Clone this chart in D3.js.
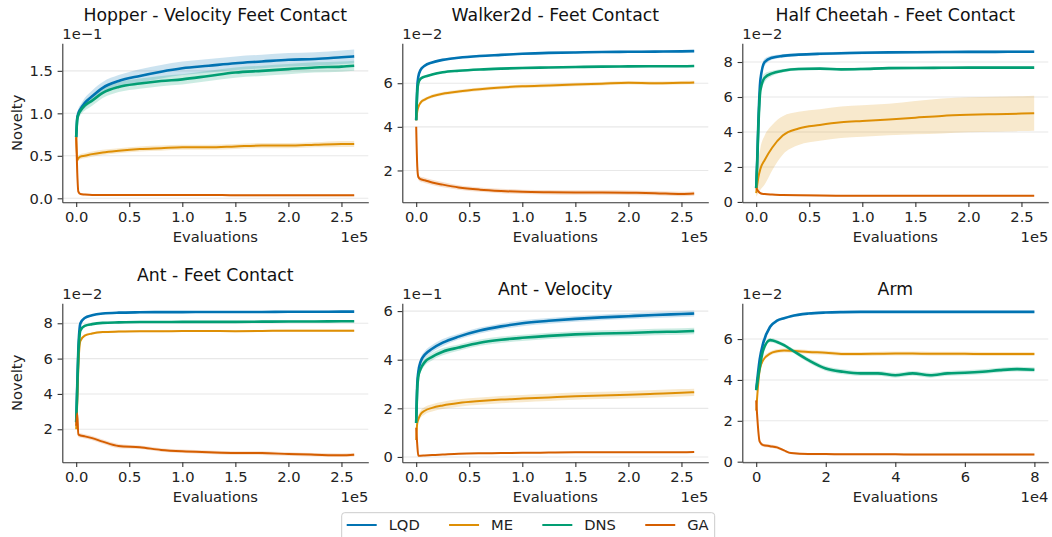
<!DOCTYPE html>
<html>
<head>
<meta charset="utf-8">
<script src="https://cdn.jsdelivr.net/npm/d3@7"></script>
<style>
  body { margin: 0; background: #fff; }
  svg { font-family: "DejaVu Sans", sans-serif; }
  .axis path, .axis line { stroke: #333; stroke-width: 1.1; }
  .axis text { fill: #222; font-size: 14.7px; font-family: "DejaVu Sans", sans-serif; }
</style>
</head>
<body>
<div id="chart"></div>
<script>
// x sample points, evaluations in units of 1e5 (Arm panel: 1e4)
const xEvals = [0, 0.01, 0.02, 0.04, 0.08, 0.15, 0.25, 0.4, 0.6, 0.8, 1.0, 1.25, 1.5, 1.75, 2.0, 2.25, 2.5, 2.62];
const xArm = [0, 0.1, 0.2, 0.4, 0.6, 0.8, 1.0, 1.5, 2.0, 2.5, 3.0, 3.5, 4.0, 4.5, 5.0, 5.5, 6.0, 6.5, 7.0, 7.5, 8.0];

const methods = ["LQD", "ME", "DNS", "GA"];
const methodColors = ["#0173b2", "#de8f05", "#029e73", "#d55e00"];

// Hopper - Velocity Feet Contact (1e-1)
const hopperLQD = [0.72, 0.95, 1.0, 1.05, 1.12, 1.2, 1.3, 1.38, 1.44, 1.49, 1.53, 1.56, 1.59, 1.61, 1.63, 1.64, 1.66, 1.67];
const hopperLQDStd = [0.02, 0.04, 0.05, 0.05, 0.06, 0.07, 0.07, 0.07, 0.08, 0.08, 0.08, 0.08, 0.08, 0.08, 0.08, 0.08, 0.08, 0.08];
const hopperME = [0.72, 0.45, 0.47, 0.49, 0.5, 0.52, 0.54, 0.56, 0.58, 0.59, 0.6, 0.6, 0.61, 0.62, 0.62, 0.63, 0.64, 0.64];
const hopperMEStd = [0.01, 0.03, 0.03, 0.03, 0.03, 0.03, 0.03, 0.03, 0.03, 0.03, 0.03, 0.03, 0.03, 0.03, 0.03, 0.03, 0.035, 0.035];
const hopperDNS = [0.72, 0.93, 0.98, 1.03, 1.09, 1.15, 1.24, 1.31, 1.35, 1.38, 1.4, 1.44, 1.48, 1.5, 1.52, 1.54, 1.55, 1.56];
const hopperDNSStd = [0.02, 0.04, 0.05, 0.05, 0.06, 0.06, 0.06, 0.06, 0.06, 0.06, 0.06, 0.06, 0.06, 0.06, 0.06, 0.06, 0.06, 0.06];
const hopperGA = [0.72, 0.3, 0.08, 0.05, 0.045, 0.04, 0.04, 0.04, 0.04, 0.04, 0.04, 0.04, 0.035, 0.035, 0.035, 0.035, 0.035, 0.035];
const hopperGAStd = [0.01, 0.02, 0.01, 0.01, 0.01, 0.01, 0.01, 0.01, 0.01, 0.01, 0.01, 0.01, 0.01, 0.01, 0.01, 0.01, 0.01, 0.01];

// Walker2d - Feet Contact (1e-2)
const walkerLQD = [4.3, 5.8, 6.3, 6.6, 6.8, 6.95, 7.07, 7.17, 7.25, 7.3, 7.35, 7.39, 7.41, 7.43, 7.44, 7.45, 7.46, 7.47];
const walkerLQDStd = [0.05, 0.1, 0.08, 0.06, 0.05, 0.05, 0.05, 0.05, 0.05, 0.05, 0.05, 0.05, 0.05, 0.05, 0.05, 0.05, 0.05, 0.05];
const walkerME = [4.3, 4.7, 4.9, 5.1, 5.25, 5.4, 5.52, 5.62, 5.72, 5.8, 5.86, 5.9, 5.94, 5.98, 6.02, 6.0, 6.02, 6.03];
const walkerMEStd = [0.05, 0.1, 0.1, 0.1, 0.08, 0.08, 0.08, 0.08, 0.08, 0.08, 0.08, 0.08, 0.08, 0.08, 0.08, 0.08, 0.08, 0.08];
const walkerDNS = [4.3, 5.6, 6.0, 6.2, 6.3, 6.4, 6.5, 6.57, 6.63, 6.67, 6.7, 6.72, 6.74, 6.76, 6.77, 6.78, 6.78, 6.79];
const walkerDNSStd = [0.05, 0.1, 0.08, 0.06, 0.05, 0.05, 0.05, 0.05, 0.05, 0.05, 0.05, 0.05, 0.05, 0.05, 0.05, 0.05, 0.05, 0.05];
const walkerGA = [4.0, 2.2, 1.7, 1.6, 1.55, 1.45, 1.35, 1.22, 1.12, 1.06, 1.02, 1.0, 0.99, 0.99, 0.98, 0.96, 0.92, 0.94];
const walkerGAStd = [0.1, 0.12, 0.12, 0.12, 0.12, 0.12, 0.12, 0.1, 0.1, 0.1, 0.1, 0.1, 0.1, 0.1, 0.1, 0.1, 0.1, 0.1];

// Half Cheetah - Feet Contact (1e-2)
const cheetahLQD = [0.8, 2.5, 4.5, 7.0, 8.0, 8.25, 8.35, 8.42, 8.47, 8.5, 8.53, 8.55, 8.56, 8.57, 8.58, 8.58, 8.59, 8.59];
const cheetahLQDStd = [0.1, 0.4, 0.4, 0.3, 0.2, 0.12, 0.1, 0.08, 0.08, 0.08, 0.08, 0.08, 0.08, 0.08, 0.08, 0.08, 0.08, 0.08];
const cheetahME = [0.5, 1.0, 1.4, 1.9, 2.4, 3.1, 3.8, 4.2, 4.4, 4.55, 4.63, 4.72, 4.82, 4.92, 4.98, 5.02, 5.05, 5.07];
const cheetahMEStd = [0.2, 0.6, 0.9, 1.2, 1.4, 1.3, 1.1, 0.95, 0.9, 0.9, 0.9, 0.9, 0.95, 1.0, 1.0, 1.0, 1.0, 1.0];
const cheetahDNS = [0.8, 2.3, 4.2, 6.4, 7.1, 7.35, 7.5, 7.6, 7.62, 7.58, 7.6, 7.65, 7.66, 7.67, 7.68, 7.68, 7.68, 7.68];
const cheetahDNSStd = [0.1, 0.4, 0.4, 0.3, 0.25, 0.15, 0.1, 0.08, 0.08, 0.08, 0.08, 0.08, 0.08, 0.08, 0.08, 0.08, 0.08, 0.08];
const cheetahGA = [0.8, 0.7, 0.6, 0.5, 0.45, 0.42, 0.4, 0.38, 0.37, 0.36, 0.36, 0.36, 0.36, 0.36, 0.36, 0.36, 0.36, 0.36];
const cheetahGAStd = [0.05, 0.05, 0.05, 0.04, 0.04, 0.04, 0.04, 0.04, 0.04, 0.04, 0.04, 0.04, 0.04, 0.04, 0.04, 0.04, 0.04, 0.04];

// Ant - Feet Contact (1e-2)
const antFeetLQD = [2.4, 4.5, 6.5, 8.0, 8.3, 8.45, 8.55, 8.6, 8.62, 8.63, 8.63, 8.64, 8.64, 8.64, 8.65, 8.65, 8.66, 8.66];
const antFeetLQDStd = [0.1, 0.2, 0.2, 0.1, 0.06, 0.05, 0.05, 0.05, 0.05, 0.05, 0.05, 0.05, 0.05, 0.05, 0.05, 0.05, 0.05, 0.05];
const antFeetME = [2.0, 3.5, 5.5, 7.0, 7.3, 7.42, 7.5, 7.53, 7.55, 7.55, 7.56, 7.56, 7.55, 7.56, 7.58, 7.58, 7.58, 7.58];
const antFeetMEStd = [0.1, 0.2, 0.2, 0.12, 0.08, 0.06, 0.06, 0.06, 0.06, 0.06, 0.06, 0.06, 0.06, 0.06, 0.06, 0.06, 0.06, 0.06];
const antFeetDNS = [2.4, 4.3, 6.2, 7.6, 7.85, 7.95, 8.02, 8.05, 8.07, 8.07, 8.08, 8.08, 8.08, 8.09, 8.1, 8.1, 8.11, 8.11];
const antFeetDNSStd = [0.1, 0.2, 0.2, 0.1, 0.06, 0.05, 0.05, 0.05, 0.05, 0.05, 0.05, 0.05, 0.05, 0.05, 0.05, 0.05, 0.05, 0.05];
const antFeetGA = [2.2, 2.9, 1.7, 1.65, 1.6, 1.5, 1.3, 1.05, 0.98, 0.83, 0.75, 0.7, 0.66, 0.65, 0.6, 0.56, 0.53, 0.56];
const antFeetGAStd = [0.2, 0.2, 0.15, 0.12, 0.12, 0.12, 0.12, 0.12, 0.1, 0.1, 0.1, 0.1, 0.1, 0.1, 0.1, 0.1, 0.1, 0.1];

// Ant - Velocity (1e-1)
const antVelLQD = [1.4, 3.0, 3.5, 3.9, 4.2, 4.45, 4.7, 4.95, 5.2, 5.37, 5.5, 5.6, 5.68, 5.74, 5.79, 5.84, 5.88, 5.9];
const antVelLQDStd = [0.05, 0.15, 0.15, 0.15, 0.15, 0.15, 0.15, 0.12, 0.12, 0.12, 0.12, 0.12, 0.12, 0.12, 0.12, 0.12, 0.12, 0.12];
const antVelME = [0.7, 1.4, 1.55, 1.75, 1.9, 2.02, 2.12, 2.22, 2.3, 2.36, 2.4, 2.45, 2.5, 2.53, 2.56, 2.6, 2.64, 2.66];
const antVelMEStd = [0.05, 0.12, 0.15, 0.15, 0.15, 0.15, 0.15, 0.15, 0.15, 0.15, 0.15, 0.15, 0.15, 0.15, 0.15, 0.15, 0.15, 0.15];
const antVelDNS = [1.4, 2.8, 3.3, 3.6, 3.9, 4.12, 4.33, 4.5, 4.7, 4.82, 4.9, 4.98, 5.04, 5.08, 5.1, 5.14, 5.16, 5.18];
const antVelDNSStd = [0.05, 0.15, 0.15, 0.15, 0.15, 0.15, 0.15, 0.13, 0.13, 0.13, 0.13, 0.13, 0.13, 0.13, 0.13, 0.13, 0.13, 0.13];
const antVelGA = [1.2, 0.5, 0.05, 0.05, 0.06, 0.08, 0.1, 0.13, 0.15, 0.16, 0.17, 0.18, 0.19, 0.19, 0.19, 0.19, 0.19, 0.2];
const antVelGAStd = [0.02, 0.02, 0.01, 0.01, 0.02, 0.02, 0.02, 0.02, 0.02, 0.02, 0.02, 0.02, 0.02, 0.02, 0.02, 0.02, 0.02, 0.02];

// Arm (1e-2, x in 1e4)
const armLQD = [3.5, 5.0, 5.8, 6.6, 6.9, 7.02, 7.12, 7.25, 7.3, 7.32, 7.33, 7.33, 7.33, 7.33, 7.33, 7.33, 7.33, 7.33, 7.33, 7.33, 7.33];
const armLQDStd = [0.05, 0.1, 0.1, 0.08, 0.06, 0.05, 0.05, 0.05, 0.05, 0.05, 0.05, 0.05, 0.05, 0.05, 0.05, 0.05, 0.05, 0.05, 0.05, 0.05, 0.05];
const armME = [2.5, 4.48, 4.97, 5.29, 5.4, 5.44, 5.43, 5.37, 5.33, 5.27, 5.27, 5.28, 5.29, 5.29, 5.28, 5.28, 5.28, 5.27, 5.27, 5.27, 5.27];
const armMEStd = [0.1, 0.15, 0.12, 0.1, 0.1, 0.1, 0.1, 0.1, 0.1, 0.1, 0.1, 0.1, 0.1, 0.1, 0.1, 0.1, 0.1, 0.1, 0.1, 0.1, 0.1];
const armDNS = [3.5, 4.6, 5.45, 5.95, 5.86, 5.7, 5.49, 4.97, 4.56, 4.4, 4.32, 4.32, 4.23, 4.32, 4.23, 4.32, 4.35, 4.4, 4.48, 4.53, 4.5];
const armDNSStd = [0.05, 0.1, 0.1, 0.1, 0.1, 0.1, 0.1, 0.12, 0.12, 0.12, 0.12, 0.12, 0.12, 0.12, 0.12, 0.12, 0.12, 0.12, 0.12, 0.12, 0.12];
const armGA = [3.0, 0.98, 0.81, 0.76, 0.7, 0.55, 0.42, 0.37, 0.37, 0.36, 0.36, 0.36, 0.36, 0.35, 0.35, 0.35, 0.35, 0.35, 0.35, 0.35, 0.35];
const armGAStd = [0.1, 0.1, 0.08, 0.08, 0.08, 0.06, 0.05, 0.05, 0.05, 0.05, 0.05, 0.05, 0.05, 0.05, 0.05, 0.05, 0.05, 0.05, 0.05, 0.05, 0.05];

// panel geometry (matplotlib-like subplot grid)
var cols = [62.3, 402.3, 742.3];
var rows = [43.3, 303.3];
var panelW = 306, panelH = 159;

var panels = [
  { title: "Hopper - Velocity Feet Contact", col: 0, row: 0, titleY: 20.5,
    x: xEvals, xDomain: [-0.131, 2.753], xTicks: [0, 0.5, 1, 1.5, 2, 2.5], xFmt: ".1f", xExp: "1e5",
    yDomain: [-0.047, 1.824], yTicks: [0, 0.5, 1, 1.5], yFmt: ".1f", yExp: "1e\u22121",
    series: [[hopperLQD, hopperLQDStd], [hopperME, hopperMEStd], [hopperDNS, hopperDNSStd], [hopperGA, hopperGAStd]] },
  { title: "Walker2d - Feet Contact", col: 1, row: 0, titleY: 20.5,
    x: xEvals, xDomain: [-0.131, 2.753], xTicks: [0, 0.5, 1, 1.5, 2, 2.5], xFmt: ".1f", xExp: "1e5",
    yDomain: [0.54, 7.83], yTicks: [2, 4, 6], yFmt: "d", yExp: "1e\u22122",
    series: [[walkerLQD, walkerLQDStd], [walkerME, walkerMEStd], [walkerDNS, walkerDNSStd], [walkerGA, walkerGAStd]] },
  { title: "Half Cheetah - Feet Contact", col: 2, row: 0, titleY: 20.5,
    x: xEvals, xDomain: [-0.131, 2.753], xTicks: [0, 0.5, 1, 1.5, 2, 2.5], xFmt: ".1f", xExp: "1e5",
    yDomain: [-0.02, 9.07], yTicks: [0, 2, 4, 6, 8], yFmt: "d", yExp: "1e\u22122",
    series: [[cheetahLQD, cheetahLQDStd], [cheetahME, cheetahMEStd], [cheetahDNS, cheetahDNSStd], [cheetahGA, cheetahGAStd]] },
  { title: "Ant - Feet Contact", col: 0, row: 1, titleY: 280.5,
    x: xEvals, xDomain: [-0.131, 2.753], xTicks: [0, 0.5, 1, 1.5, 2, 2.5], xFmt: ".1f", xExp: "1e5",
    yDomain: [0.13, 9.13], yTicks: [2, 4, 6, 8], yFmt: "d", yExp: "1e\u22122",
    series: [[antFeetLQD, antFeetLQDStd], [antFeetME, antFeetMEStd], [antFeetDNS, antFeetDNSStd], [antFeetGA, antFeetGAStd]] },
  { title: "Ant - Velocity", col: 1, row: 1, titleY: 294.5,
    x: xEvals, xDomain: [-0.131, 2.753], xTicks: [0, 0.5, 1, 1.5, 2, 2.5], xFmt: ".1f", xExp: "1e5",
    yDomain: [-0.22, 6.32], yTicks: [0, 2, 4, 6], yFmt: "d", yExp: "1e\u22121",
    series: [[antVelLQD, antVelLQDStd], [antVelME, antVelMEStd], [antVelDNS, antVelDNSStd], [antVelGA, antVelGAStd]] },
  { title: "Arm", col: 2, row: 1, titleY: 294.5,
    x: xArm, xDomain: [-0.4, 8.4], xTicks: [0, 2, 4, 6, 8], xFmt: "d", xExp: "1e4",
    yDomain: [-0.03, 7.75], yTicks: [0, 2, 4, 6], yFmt: "d", yExp: "1e\u22122",
    series: [[armLQD, armLQDStd], [armME, armMEStd], [armDNS, armDNSStd], [armGA, armGAStd]] }
];

var svg = d3.select("#chart").append("svg")
    .attr("width", 1052)
    .attr("height", 537);

function renderPanel(p) {
  var left = cols[p.col], top = rows[p.row];
  var g = svg.append("g")
      .attr("transform", "translate(" + left + "," + top + ")");

  var x = d3.scaleLinear().domain(p.xDomain).range([0, panelW]);
  var y = d3.scaleLinear().domain(p.yDomain).range([panelH, 0]);

  // horizontal grid
  g.append("g").selectAll("line")
      .data(p.yTicks)
      .enter().append("line")
      .attr("x1", 0)
      .attr("x2", panelW)
      .attr("y1", function (d) { return y(d); })
      .attr("y2", function (d) { return y(d); })
      .attr("stroke", "#e8e8e8")
      .attr("stroke-width", 1.1);

  var rowsData = p.series.map(function (s, i) {
    return {
      color: methodColors[i],
      name: methods[i],
      pts: p.x.map(function (xv, j) { return { x: xv, m: s[0][j], s: s[1][j] }; })
    };
  });

  var area = d3.area()
      .curve(d3.curveMonotoneX)
      .x(function (d) { return x(d.x); })
      .y0(function (d) { return y(d.m - d.s); })
      .y1(function (d) { return y(d.m + d.s); });

  var line = d3.line()
      .curve(d3.curveMonotoneX)
      .x(function (d) { return x(d.x); })
      .y(function (d) { return y(d.m); });

  g.append("g").selectAll("path")
      .data(rowsData)
      .enter().append("path")
      .attr("d", function (d) { return area(d.pts); })
      .attr("fill", function (d) { return d.color; })
      .attr("fill-opacity", 0.2);

  g.append("g").selectAll("path")
      .data(rowsData)
      .enter().append("path")
      .attr("d", function (d) { return line(d.pts); })
      .attr("fill", "none")
      .attr("stroke", function (d) { return d.color; })
      .attr("stroke-width", function (d) { return (d.name === "LQD" || d.name === "DNS") ? 2.6 : 2; })
      .attr("stroke-linejoin", "round");

  // axes (left and bottom spines only)
  g.append("g")
      .attr("class", "axis")
      .attr("transform", "translate(0," + panelH + ")")
      .call(d3.axisBottom(x).tickValues(p.xTicks).tickFormat(d3.format(p.xFmt))
        .tickSize(4.7).tickSizeOuter(0).tickPadding(4.7));

  g.append("g")
      .attr("class", "axis")
      .call(d3.axisLeft(y).tickValues(p.yTicks).tickFormat(d3.format(p.yFmt))
        .tickSize(4.7).tickSizeOuter(0).tickPadding(4.7));

  // scale exponents
  g.append("text")
      .attr("x", 0)
      .attr("y", -4)
      .attr("font-size", "14.7px")
      .attr("fill", "#222")
      .text(p.yExp);

  g.append("text")
      .attr("x", panelW)
      .attr("y", panelH + 39.5)
      .attr("text-anchor", "end")
      .attr("font-size", "14.7px")
      .attr("fill", "#222")
      .text(p.xExp);

  g.append("text")
      .attr("x", panelW / 2)
      .attr("y", panelH + 39.5)
      .attr("text-anchor", "middle")
      .attr("font-size", "14.7px")
      .attr("fill", "#222")
      .text("Evaluations");

  if (p.col === 0) {
    g.append("text")
        .attr("transform", "translate(" + (22 - left) + "," + (panelH / 2) + ") rotate(-90)")
        .attr("text-anchor", "middle")
        .attr("font-size", "14.7px")
        .attr("fill", "#222")
        .text("Novelty");
  }

  svg.append("text")
      .attr("x", left + panelW / 2)
      .attr("y", p.titleY)
      .attr("text-anchor", "middle")
      .attr("font-size", "17.3px")
      .attr("fill", "#111")
      .text(p.title);
}

panels.forEach(renderPanel);

// legend at bottom centre
var legend = svg.append("g");
var legendBox = legend.append("rect")
    .attr("x", 341.7)
    .attr("y", 512.7)
    .attr("height", 34)
    .attr("rx", 3)
    .attr("fill", "#fff")
    .attr("stroke", "#cccccc")
    .attr("stroke-width", 1);

var cx = 346.7;
methods.forEach(function (m, i) {
  legend.append("line")
      .attr("x1", cx)
      .attr("x2", cx + 30)
      .attr("y1", 525)
      .attr("y2", 525)
      .attr("stroke", methodColors[i])
      .attr("stroke-width", 2);
  var t = legend.append("text")
      .attr("x", cx + 42)
      .attr("y", 530.3)
      .attr("font-size", "14.7px")
      .attr("fill", "#222")
      .text(m);
  var w = t.node().getComputedTextLength();
  cx = cx + 42 + w + (i < methods.length - 1 ? 29.3 : 0);
});
legendBox.attr("width", cx + 6 - 341.7);
</script>
</body>
</html>
